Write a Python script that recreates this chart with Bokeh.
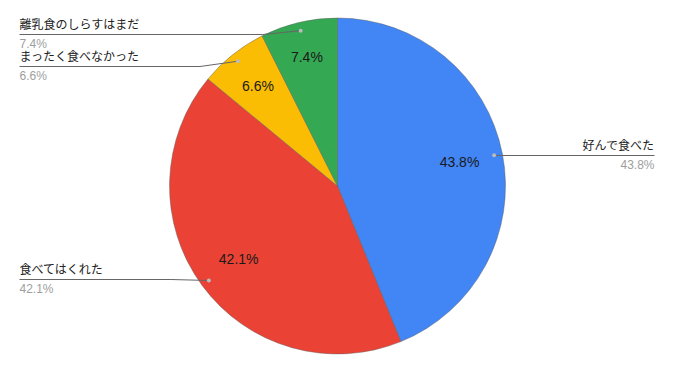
import math
from bokeh.plotting import figure
from bokeh.models import Range1d, ColumnDataSource
from bokeh.core.properties import value
from bokeh.embed import file_html
from bokeh.resources import INLINE

# ---- data ----
labels = ["好んで食べた", "食べてはくれた", "まったく食べなかった", "離乳食のしらすはまだ"]
values = [43.8, 42.1, 6.6, 7.4]
pct_labels = ["43.8%", "42.1%", "6.6%", "7.4%"]
colors = ["#4285F4", "#EA4335", "#FBBC04", "#34A853"]

# ---- layout (screen pixel coordinates in the page) ----
W, H = 657, 355
PAGE_H = 371
OFF = 0
cx, cy_s, R = 337, 185.5, 168
cy = PAGE_H - cy_s

def sy(y):  # screen y -> data y
    return PAGE_H - y

p = figure(width=W, height=H, x_range=Range1d(OFF, OFF + W), y_range=Range1d(PAGE_H - OFF - H, PAGE_H - OFF),
           output_backend="svg", toolbar_location=None, min_border=0)
p.axis.visible = False
p.grid.visible = False
p.outline_line_color = None
p.background_fill_color = "white"

total = sum(values)
starts, ends, mids = [], [], []
acc = 0.0
for v in values:
    a0 = acc / total
    acc += v
    a1 = acc / total
    starts.append(math.pi / 2 - 2 * math.pi * a1)
    ends.append(math.pi / 2 - 2 * math.pi * a0)
    mids.append(math.pi / 2 - 2 * math.pi * (a0 + a1) / 2)

src = ColumnDataSource(dict(start=starts, end=ends, color=colors,
                            x=[cx] * 4, y=[cy] * 4))
p.wedge(x="x", y="y", radius=R, start_angle="start", end_angle="end",
        fill_color="color", line_color="#5f5f5f", line_alpha=0.55, line_width=0.8, source=src)

# inside percentage labels
fr = [0.74, 0.73, 0.76, 0.79]
ix = [cx + f * R * math.cos(m) for f, m in zip(fr, mids)]
iy = [cy + f * R * math.sin(m) for f, m in zip(fr, mids)]
p.text(x=ix, y=iy, text=pct_labels, text_align="center", text_baseline="middle",
       text_font=value("Liberation Sans"), text_font_size="14px", text_color="#1a1a1a")

# leader lines and outside labels
dot_x = [cx + 0.95 * R * math.cos(m) for m in mids]
dot_y = [cy + 0.95 * R * math.sin(m) for m in mids]
line_y_s = [155, 279, 66, 34]
side = ["right", "left", "left", "left"]
right_x, left_x = 654, 19

for i in range(4):
    ly = sy(line_y_s[i])
    if side[i] == "right":
        xs = [dot_x[i], right_x]
        ys = [ly, ly]
        tx, align = right_x, "right"
    else:
        elbow = dot_x[i] - 38
        xs = [left_x, elbow, dot_x[i]]
        ys = [ly, ly, dot_y[i]]
        tx, align = left_x, "left"
    p.line(xs, ys, line_color="#666666", line_width=1)
    p.scatter([dot_x[i]], [dot_y[i]], size=4, fill_color="#bbbbbb", line_color=None)
    p.text(x=[tx], y=[ly + 3], text=[labels[i]], text_align=align, text_baseline="bottom",
           text_font=value("Liberation Sans, Noto Sans CJK JP"), text_font_size="12px",
           text_color="#222222")
    p.text(x=[tx], y=[ly - 2], text=[pct_labels[i]], text_align=align, text_baseline="top",
           text_font=value("Liberation Sans"), text_font_size="12px", text_color="#9e9e9e")

open("out.html", "w").write(file_html(p, INLINE))
